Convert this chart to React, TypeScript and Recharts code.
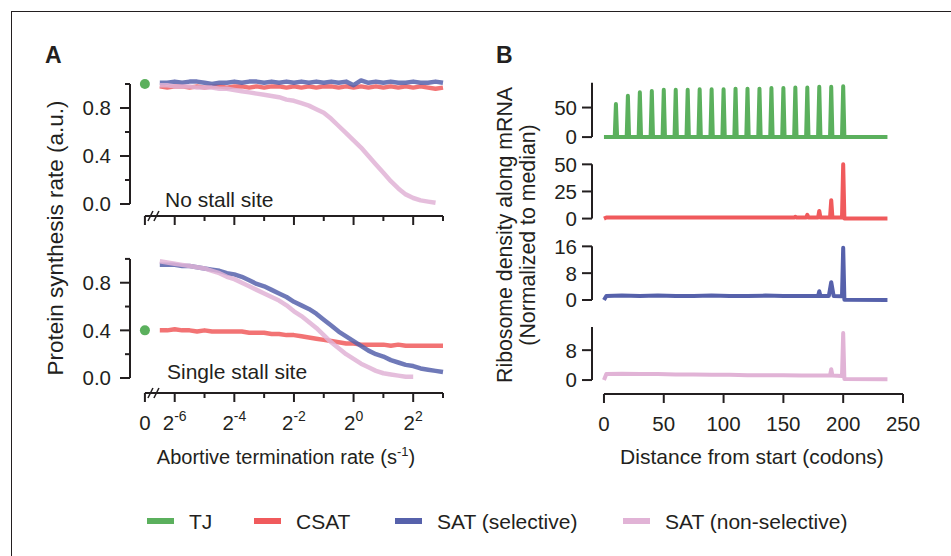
import React from 'react';
import {
  ComposedChart,
  Line,
  Scatter,
  XAxis,
  YAxis,
  ReferenceLine,
  ReferenceDot,
} from 'recharts';

const INK = '#231f20';
const FONT = '"Liberation Sans", Arial, Helvetica, sans-serif';
const TJ_COLOR = '#5bb05d';
const CSAT_COLOR = '#f05a5c';
const SEL_COLOR = '#5661ab';
const NON_COLOR = '#e1b3d6';
const TICK_FONT = 20.5;
const PAD = 14; // room above / below each plot so tick labels are not cut

// ---- Panel A: synthesis rate vs abortive termination rate (x = log2 of rate)
const ZERO_POS = -7; // where rate = 0 sits on the broken axis
const rateExp = [
  -6.5, -6.25, -6, -5.75, -5.5, -5.25, -5, -4.75, -4.5, -4.25, -4, -3.75, -3.5, -3.25, -3, -2.75, -2.5, -2.25,
  -2, -1.75, -1.5, -1.25, -1, -0.75, -0.5, -0.25, 0, 0.25, 0.5, 0.75, 1, 1.25, 1.5, 1.75, 2, 2.25, 2.5, 2.75, 3,
];
const csatNoStall = [
  0.98, 0.97, 0.98, 0.98, 0.97, 0.98, 0.97, 0.98, 0.98, 0.97, 0.98, 0.98, 0.97, 0.98, 0.97, 0.98, 0.98, 0.97, 0.98,
  0.97, 0.98, 0.97, 0.98, 0.98, 0.97, 0.98, 0.97, 0.98, 0.97, 0.98, 0.97, 0.98, 0.97, 0.98, 0.97, 0.98, 0.97, 0.96,
  0.97,
];
const selNoStall = [
  1.01, 1.01, 1.02, 1.01, 1.02, 1.02, 1.01, 1.0, 1.01, 1.01, 1.02, 1.01, 1.02, 1.02, 1.01, 1.02, 1.01, 1.02, 1.01,
  1.02, 1.01, 1.02, 1.01, 1.02, 1.01, 1.02, 0.99, 1.03, 1.01, 1.02, 1.01, 1.02, 1.01, 1.01, 1.02, 1.01, 1.01, 1.02,
  1.01,
];
const nonNoStall = [
  0.99, 0.99, 0.98, 0.98, 0.98, 0.97, 0.97, 0.97, 0.96, 0.96, 0.95, 0.94, 0.93, 0.92, 0.91, 0.9, 0.89, 0.87, 0.86,
  0.84, 0.82, 0.79, 0.76, 0.71, 0.65, 0.59, 0.53, 0.47, 0.4, 0.33, 0.26, 0.19, 0.13, 0.08, 0.05, 0.03, 0.02, 0.01,
  null,
];
const csatStall = [
  0.4, 0.4, 0.41, 0.4, 0.4, 0.39, 0.4, 0.39, 0.39, 0.39, 0.39, 0.39, 0.38, 0.38, 0.38, 0.37, 0.37, 0.36, 0.36,
  0.35, 0.34, 0.33, 0.32, 0.31, 0.3, 0.29, 0.29, 0.28, 0.28, 0.28, 0.28, 0.27, 0.28, 0.27, 0.27, 0.27, 0.27, 0.27,
  0.27,
];
const selStall = [
  0.95, 0.95, 0.95, 0.94, 0.94, 0.93, 0.92, 0.91, 0.9, 0.88, 0.87, 0.85, 0.82, 0.79, 0.77, 0.74, 0.71, 0.68, 0.64,
  0.61, 0.58, 0.54, 0.49, 0.44, 0.39, 0.35, 0.31, 0.27, 0.23, 0.2, 0.18, 0.15, 0.13, 0.11, 0.1, 0.08, 0.07, 0.06,
  0.05,
];
const nonStall = [
  0.98, 0.97, 0.96, 0.95, 0.94, 0.93, 0.92, 0.9, 0.88, 0.85, 0.83, 0.8, 0.77, 0.74, 0.71, 0.68, 0.65, 0.61, 0.56,
  0.52, 0.47, 0.42, 0.36, 0.3, 0.25, 0.2, 0.16, 0.12, 0.09, 0.06, 0.04, 0.03, 0.02, 0.01, 0.01, null, null, null,
  null,
];
const tjNoStall = 1.0; // TJ has no abortive termination: one point at rate 0
const tjStall = 0.4;
const rateTicks = [-7, -6, -5, -4, -3, -2, -1, 0, 1, 2, 3];
const fracTicks = [0, 0.2, 0.4, 0.6, 0.8, 1];
const fracMajor = [0, 0.4, 0.8];

// ---- Panel B: ribosome density along the mRNA
const tjPeakPos = [10, 20, 30, 40, 50, 60, 70, 80, 90, 100, 110, 120, 130, 140, 150, 160, 170, 180, 190, 200];
const tjPeakHeight = [56, 70, 76, 78, 80, 80, 80, 81, 81, 81, 82, 82, 82, 83, 83, 84, 84, 85, 85, 86];
const mrnaEnd = 237;
const csatPos = [0, 2, 30, 60, 90, 120, 150, 159, 160, 161, 169, 170, 171, 179, 180, 181, 189, 190, 191, 199, 200, 201, 237];
const csatVal = [0, 1, 1.1, 1, 1.1, 1, 1, 1, 1.6, 1, 1, 3.5, 1, 1, 7, 1, 1, 17, 1, 1, 50, 0, 0];
const selPos = [0, 2, 15, 30, 45, 60, 75, 90, 105, 120, 135, 150, 165, 179, 180, 181, 188, 190, 192, 199, 200, 201, 237];
const selVal = [0, 1.2, 1.3, 1.2, 1.3, 1.2, 1.2, 1.3, 1.2, 1.2, 1.3, 1.2, 1.2, 1.2, 2.6, 1.2, 1.2, 5.3, 1.2, 1.1, 15.6, 0.1, 0];
const nonPos = [0, 2, 15, 30, 45, 60, 75, 90, 105, 120, 135, 150, 165, 180, 189, 190, 191, 199, 200, 201, 237];
const nonVal = [0, 1.6, 1.7, 1.6, 1.6, 1.5, 1.5, 1.4, 1.4, 1.3, 1.3, 1.3, 1.2, 1.2, 1.2, 2.9, 1.2, 1.1, 12.6, 0.3, 0.2];
const codonTicks = [0, 50, 100, 150, 200, 250];

const legendNames = ['TJ', 'CSAT', 'SAT (selective)', 'SAT (non-selective)'];
const legendColors = [TJ_COLOR, CSAT_COLOR, SEL_COLOR, NON_COLOR];

const noStallRows = rateExp.map((e, i) => ({ e, csat: csatNoStall[i], sel: selNoStall[i], non: nonNoStall[i] }));
const stallRows = rateExp.map((e, i) => ({ e, csat: csatStall[i], sel: selStall[i], non: nonStall[i] }));

const tjRows: { x: number; v: number }[] = [{ x: 0, v: 0 }];
tjPeakPos.forEach((p, i) => {
  tjRows.push({ x: p - 1, v: 0 }, { x: p, v: tjPeakHeight[i] }, { x: p + 1, v: 0 });
});
tjRows.push({ x: mrnaEnd, v: 0 });
const zipRows = (pos: number[], val: number[]) => pos.map((x, i) => ({ x, v: val[i] }));

const txt = { fontFamily: FONT, fill: INK } as const;

const rateTick = (labels: boolean) => (props: any) => {
  const { x, y, payload } = props;
  const v = payload.value;
  const isZero = v === ZERO_POS;
  const major = isZero || v % 2 === 0;
  return (
    <g>
      <line x1={x} y1={y} x2={x} y2={y + (major ? 9 : 5)} stroke={INK} strokeWidth={2} />
      {labels && major && (
        <text x={x} y={y + 37} textAnchor="middle" fontSize={TICK_FONT} {...txt}>
          {isZero ? (
            '0'
          ) : (
            <>
              <tspan>2</tspan>
              <tspan dy={-9} fontSize={14}>{v}</tspan>
            </>
          )}
        </text>
      )}
    </g>
  );
};

const fracTick = (props: any) => {
  const { x, y, payload } = props;
  const v = payload.value;
  const major = fracMajor.includes(v);
  return (
    <g>
      <line x1={x - (major ? 10 : 5)} y1={y} x2={x} y2={y} stroke={INK} strokeWidth={2} />
      {major && (
        <text x={x - 19} y={y} dy="0.36em" textAnchor="end" fontSize={TICK_FONT} {...txt}>
          {v.toFixed(1)}
        </text>
      )}
    </g>
  );
};

const countTick = (props: any) => {
  const { x, y, payload } = props;
  return (
    <g>
      <line x1={x - 10} y1={y} x2={x} y2={y} stroke={INK} strokeWidth={2} />
      <text x={x - 15} y={y} dy="0.36em" textAnchor="end" fontSize={TICK_FONT} {...txt}>
        {payload.value}
      </text>
    </g>
  );
};

const codonTick = (props: any) => {
  const { x, y, payload } = props;
  return (
    <g>
      <line x1={x} y1={y} x2={x} y2={y + 9} stroke={INK} strokeWidth={2} />
      <text x={x} y={y + 37} textAnchor="middle" fontSize={TICK_FONT} {...txt}>
        {payload.value}
      </text>
    </g>
  );
};

const BreakMark = (props: any) => {
  const { cx, cy } = props;
  return (
    <g stroke={INK} strokeWidth={1.6}>
      <line x1={cx - 8} y1={cy + 5} x2={cx - 3} y2={cy - 5} />
      <line x1={cx - 2} y1={cy + 5} x2={cx + 3} y2={cy - 5} />
    </g>
  );
};

const lineStyle = { strokeWidth: 4.5, strokeOpacity: 0.85, strokeLinejoin: 'round' as const, dot: false, isAnimationActive: false };

type RatePanelProps = {
  rows: typeof noStallRows;
  tj: number;
  top: number;
  plotHeight: number;
  yMin: number;
  labels: boolean;
};

function RatePanel({ rows, tj, top, plotHeight, yMin, labels }: RatePanelProps) {
  const axisH = labels ? 50 : 14;
  return (
    <div style={{ position: 'absolute', left: 60, top: top - PAD }}>
      <ComposedChart
        width={403}
        height={plotHeight + axisH + PAD * 2}
        data={rows}
        margin={{ top: PAD, right: 20, bottom: PAD, left: 0 }}
      >
        <XAxis
          dataKey="e"
          type="number"
          domain={[-7.5, 3]}
          ticks={rateTicks}
          interval={0}
          axisLine={false}
          tickLine={false}
          tickSize={0}
          tickMargin={0}
          height={axisH}
          tick={rateTick(labels)}
        />
        <YAxis
          type="number"
          domain={[yMin, 1.1]}
          ticks={fracTicks}
          interval={0}
          axisLine={false}
          tickLine={false}
          tickSize={0}
          tickMargin={0}
          width={70}
          tick={fracTick}
        />
        <ReferenceLine segment={[{ x: -7.5, y: 0 }, { x: -7.5, y: 1 }]} stroke={INK} strokeWidth={2} ifOverflow="visible" />
        <ReferenceLine segment={[{ x: ZERO_POS, y: yMin }, { x: 3, y: yMin }]} stroke={INK} strokeWidth={2} ifOverflow="visible" />
        <ReferenceDot x={-6.63} y={yMin} r={0} ifOverflow="visible" shape={BreakMark} />
        <Line dataKey="csat" stroke={CSAT_COLOR} {...lineStyle} />
        <Line dataKey="sel" stroke={SEL_COLOR} {...lineStyle} />
        <Line dataKey="non" stroke={NON_COLOR} {...lineStyle} />
        <Scatter
          data={[{ e: ZERO_POS, tj }]}
          dataKey="tj"
          fill={TJ_COLOR}
          isAnimationActive={false}
          shape={(p: any) => <circle cx={p.cx} cy={p.cy} r={5} fill={TJ_COLOR} />}
        />
      </ComposedChart>
    </div>
  );
}

type DensityPanelProps = {
  rows: { x: number; v: number }[];
  color: string;
  top: number;
  plotHeight: number;
  domain: [number, number];
  ticks: number[];
  spineTop: number;
  showX?: boolean;
};

function DensityPanel({ rows, color, top, plotHeight, domain, ticks, spineTop, showX }: DensityPanelProps) {
  const axisH = showX ? 50 : 0;
  return (
    <div style={{ position: 'absolute', left: 532, top: top - PAD }}>
      <ComposedChart
        width={401}
        height={plotHeight + axisH + PAD * 2}
        data={rows}
        margin={{ top: PAD, right: 30, bottom: PAD, left: 0 }}
      >
        <XAxis
          dataKey="x"
          type="number"
          domain={[-10, 250]}
          ticks={codonTicks}
          interval={0}
          hide={!showX}
          axisLine={false}
          tickLine={false}
          tickSize={0}
          tickMargin={0}
          height={axisH}
          tick={codonTick}
        />
        <YAxis
          type="number"
          domain={domain}
          ticks={ticks}
          interval={0}
          axisLine={false}
          tickLine={false}
          tickSize={0}
          tickMargin={0}
          width={60}
          tick={countTick}
        />
        <ReferenceLine segment={[{ x: -10, y: 0 }, { x: -10, y: spineTop }]} stroke={INK} strokeWidth={2} ifOverflow="visible" />
        {showX && (
          <ReferenceLine segment={[{ x: 0, y: domain[0] }, { x: 250, y: domain[0] }]} stroke={INK} strokeWidth={2} ifOverflow="visible" />
        )}
        <Line dataKey="v" stroke={color} strokeWidth={4} strokeLinejoin="round" dot={false} isAnimationActive={false} />
      </ComposedChart>
    </div>
  );
}

function Overlay() {
  const legendX = [147, 254, 395, 623];
  return (
    <svg width={951} height={556} style={{ position: 'absolute', left: 0, top: 0, pointerEvents: 'none' }}>
      <text x={45} y={63} fontSize={23} fontWeight="bold" {...txt}>A</text>
      <text x={496} y={63} fontSize={23} fontWeight="bold" {...txt}>B</text>
      <text x={165} y={207} fontSize={21} {...txt}>No stall site</text>
      <text x={167} y={379} fontSize={21} {...txt}>Single stall site</text>
      <text x={286} y={464} fontSize={20} textAnchor="middle" {...txt}>
        Abortive termination rate (s<tspan dy={-8} fontSize={13}>-1</tspan>
        <tspan dy={8}>)</tspan>
      </text>
      <text x={752} y={464} fontSize={21} textAnchor="middle" {...txt}>Distance from start (codons)</text>
      <text transform="translate(63,238) rotate(-90)" fontSize={22.5} textAnchor="middle" {...txt}>
        Protein synthesis rate (a.u.)
      </text>
      <text transform="translate(512,235) rotate(-90)" fontSize={21.3} textAnchor="middle" {...txt}>
        Ribosome density along mRNA
      </text>
      <text transform="translate(535,235) rotate(-90)" fontSize={21.3} textAnchor="middle" {...txt}>
        (Normalized to median)
      </text>
      {legendNames.map((name, i) => (
        <g key={name}>
          <rect x={legendX[i]} y={518} width={27} height={6} fill={legendColors[i]} />
          <text x={legendX[i] + 42} y={529} fontSize={21} {...txt}>{name}</text>
        </g>
      ))}
    </svg>
  );
}

export default function App() {
  return (
    <div style={{ position: 'absolute', left: 0, top: 0, width: 951, height: 556, background: '#fff', fontFamily: FONT, overflow: 'hidden' }}>
      <div style={{ position: 'absolute', left: 11, top: 11, right: -5, bottom: -5, borderTop: `1px solid ${INK}`, borderLeft: `1px solid ${INK}` }} />
      <RatePanel rows={noStallRows} tj={tjNoStall} top={72} plotHeight={144} yMin={-0.1} labels={false} />
      <RatePanel rows={stallRows} tj={tjStall} top={247} plotHeight={146} yMin={-0.126} labels={true} />
      <DensityPanel rows={tjRows} color={TJ_COLOR} top={78} plotHeight={65} domain={[-10, 100]} ticks={[0, 50]} spineTop={92} />
      <DensityPanel rows={zipRows(csatPos, csatVal)} color={CSAT_COLOR} top={160} plotHeight={64} domain={[-5, 54]} ticks={[0, 25, 50]} spineTop={50} />
      <DensityPanel rows={zipRows(selPos, selVal)} color={SEL_COLOR} top={243} plotHeight={62} domain={[-1.5, 17]} ticks={[0, 8, 16]} spineTop={16} />
      <DensityPanel rows={zipRows(nonPos, nonVal)} color={NON_COLOR} top={324} plotHeight={70} domain={[-3.733, 15]} ticks={[0, 8]} spineTop={14.2} showX />
      <Overlay />
    </div>
  );
}
